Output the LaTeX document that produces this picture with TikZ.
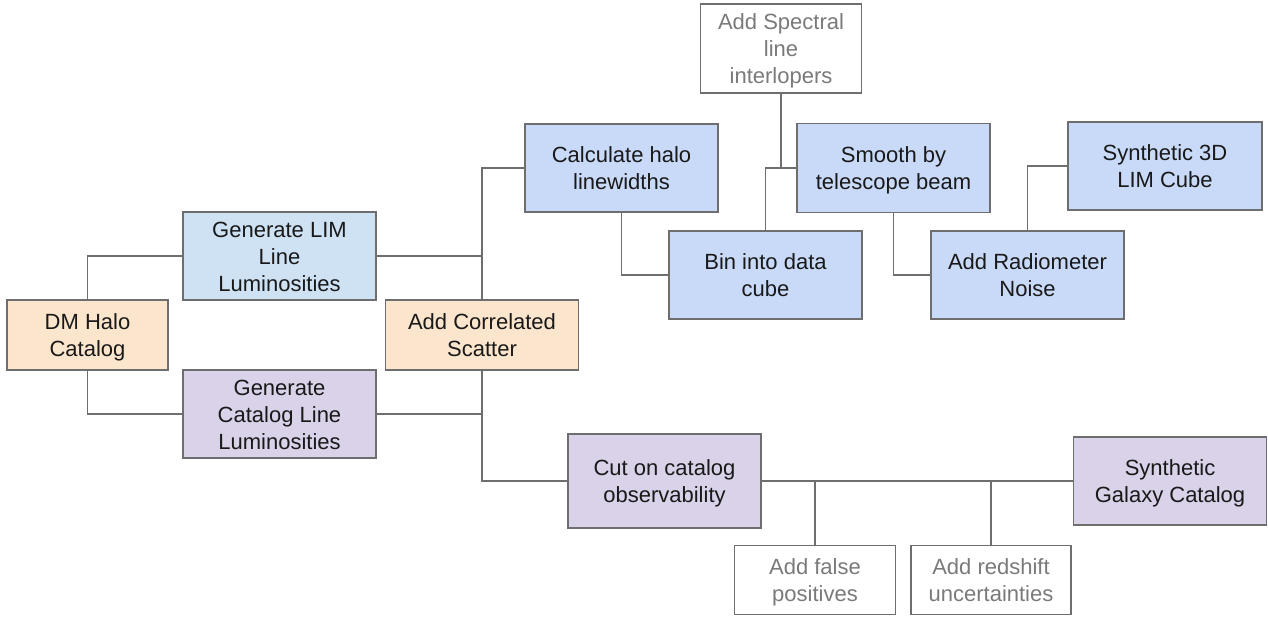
\documentclass[tikz,border=0pt]{standalone}
\usepackage{fontspec}
\setmainfont{Liberation Sans}
\definecolor{linegray}{HTML}{6E6E6E}
\definecolor{txtgray}{HTML}{7A7A7A}
\definecolor{orangefill}{HTML}{FCE5CD}
\definecolor{bluefill}{HTML}{CFE2F3}
\definecolor{cornfill}{HTML}{C9DAF8}
\definecolor{purplefill}{HTML}{D9D2E9}
\newcommand{\boxline}[1]{\rule[-5.1pt]{0pt}{27pt}#1}
\begin{document}
\begin{tikzpicture}[x=1pt,y=-1pt,
  box/.style={draw=linegray, line width=1.3pt, rectangle, align=center, inner sep=0pt,
    font=\fontsize{22}{27}\selectfont, text=black!90},
  orangebox/.style={box, fill=orangefill},
  bluebox/.style={box, fill=bluefill},
  cornbox/.style={box, fill=cornfill},
  purplebox/.style={box, fill=purplefill},
  whitebox/.style={box, fill=white, text=txtgray},
  conn/.style={draw=linegray, line width=1.3pt}]
\useasboundingbox (0,0) rectangle (1268,619);

\node[orangebox, minimum width=161pt, minimum height=70pt] (dm) at (87.5,335) {\boxline{DM Halo}\\\boxline{Catalog}};
\node[bluebox, minimum width=193pt, minimum height=88pt] (genlim) at (279.5,256) {\boxline{Generate LIM}\\\boxline{Line}\\\boxline{Luminosities}};
\node[purplebox, minimum width=193pt, minimum height=88pt] (gencat) at (279.5,414) {\boxline{Generate}\\\boxline{Catalog Line}\\\boxline{Luminosities}};
\node[orangebox, minimum width=193pt, minimum height=70pt] (scatter) at (482,335) {\boxline{Add Correlated}\\\boxline{Scatter}};
\node[cornbox, minimum width=193pt, minimum height=88pt] (calc) at (621.5,168) {\boxline{Calculate halo}\\\boxline{linewidths}};
\node[whitebox, minimum width=161pt, minimum height=89pt] (spectral) at (781,48.5) {\boxline{Add Spectral}\\\boxline{line}\\\boxline{interlopers}};
\node[cornbox, minimum width=193pt, minimum height=88pt] (bin) at (765.5,275) {\boxline{Bin into data}\\\boxline{cube}};
\node[cornbox, minimum width=193pt, minimum height=89pt] (smooth) at (893.5,168) {\boxline{Smooth by}\\\boxline{telescope beam}};
\node[cornbox, minimum width=194pt, minimum height=88pt] (synth3d) at (1165,166) {\boxline{Synthetic 3D}\\\boxline{LIM Cube}};
\node[cornbox, minimum width=193pt, minimum height=88pt] (noise) at (1027.5,275) {\boxline{Add Radiometer}\\\boxline{Noise}};
\node[purplebox, minimum width=193pt, minimum height=94pt] (cut) at (664.5,481) {\boxline{Cut on catalog}\\\boxline{observability}};
\node[purplebox, minimum width=193pt, minimum height=88pt] (synthgal) at (1170,481) {\boxline{Synthetic}\\\boxline{Galaxy Catalog}};
\node[whitebox, minimum width=161pt, minimum height=69pt] (fp) at (815,580) {\boxline{Add false}\\\boxline{positives}};
\node[whitebox, minimum width=160pt, minimum height=69pt] (ru) at (991,580) {\boxline{Add redshift}\\\boxline{uncertainties}};

\coordinate (specj) at (spectral.south |- smooth.west);
\coordinate (fpj) at (fp.north |- cut.east);
\coordinate (ruj) at (ru.north |- cut.east);

\draw[conn] (dm.north) |- (genlim.west);
\draw[conn] (dm.south) |- (gencat.west);
\draw[conn] (genlim.east) -| (scatter.north);
\draw[conn] (calc.west) -| (scatter.north);
\draw[conn] (gencat.east) -| (scatter.south);
\draw[conn] (scatter.south) |- (cut.west);
\draw[conn] (calc.south) |- (bin.west);
\draw[conn] (bin.north) |- (smooth.west);
\draw[conn] (spectral.south) -- (specj);
\draw[conn] (smooth.south) |- (noise.west);
\draw[conn] (noise.north) |- (synth3d.west);
\draw[conn] (cut.east) -- (synthgal.west);
\draw[conn] (fp.north) -- (fpj);
\draw[conn] (ru.north) -- (ruj);
\end{tikzpicture}
\end{document}
